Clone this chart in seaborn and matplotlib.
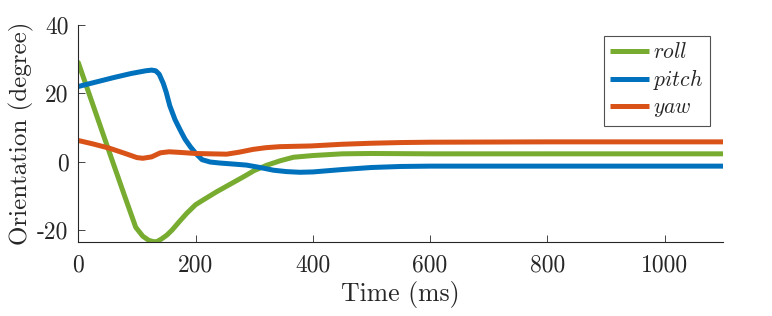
import numpy as np
import pandas as pd
import matplotlib
matplotlib.use("Agg")
import matplotlib.pyplot as plt
import seaborn as sns

# ── Data ──────────────────────────────────────────────────────────────────────
roll_t   = [0, 20, 40, 58, 80, 98, 110, 120, 128, 134, 142, 151, 160, 172, 185,
            200, 213, 236, 260, 282, 300, 322, 345, 367, 400, 450, 500, 600,
            800, 1000, 1100]
roll_deg = [29.0, 19.1, 9.2, 0.3, -10.5, -19.2, -21.8, -23.0, -23.4, -23.4,
            -22.6, -21.5, -20.0, -17.6, -15.1, -12.6, -11.2, -8.8, -6.5, -4.4,
            -2.6, -1.0, 0.3, 1.3, 1.8, 2.3, 2.4, 2.3, 2.3, 2.3, 2.3]

pitch_t   = [0, 30, 60, 90, 115, 125, 132, 138, 145, 150, 156, 165, 174, 182,
             191, 200, 211, 225, 242, 265, 287, 310, 333, 355, 378, 400, 450,
             500, 550, 600, 800, 1000, 1100]
pitch_deg = [22.0, 23.3, 24.6, 25.8, 26.6, 26.8, 26.6, 25.6, 22.9, 20.3, 16.4,
             12.3, 9.2, 6.6, 4.4, 2.5, 0.6, -0.1, -0.4, -0.7, -1.0, -1.7, -2.5,
             -2.9, -3.1, -3.0, -2.3, -1.7, -1.4, -1.3, -1.3, -1.3, -1.3]

yaw_t   = [0, 25, 54, 80, 100, 110, 125, 140, 155, 175, 200, 225, 253, 275,
           298, 320, 344, 370, 396, 450, 500, 550, 600, 800, 1000, 1100]
yaw_deg = [6.2, 5.2, 3.9, 2.4, 1.2, 1.0, 1.4, 2.6, 2.9, 2.7, 2.4, 2.3, 2.2,
           2.8, 3.6, 4.1, 4.4, 4.5, 4.6, 5.1, 5.4, 5.6, 5.7, 5.8, 5.8, 5.8]

series_names  = ["roll", "pitch", "yaw"]
series_colors = ["#77AC30", "#0072BD", "#D95319"]

x_ticks = [0, 200, 400, 600, 800, 1000]
y_ticks = [-20, 0, 20, 40]
y_tick_labels = ["-20", "0", "20", "40"]

# ── Build long table ──────────────────────────────────────────────────────────
frames = []
for name, t, v in [("roll", roll_t, roll_deg),
                   ("pitch", pitch_t, pitch_deg),
                   ("yaw", yaw_t, yaw_deg)]:
    frames.append(pd.DataFrame({"time": t, "deg": v, "axis": name}))
df = pd.concat(frames, ignore_index=True)

# ── Style ─────────────────────────────────────────────────────────────────────
sns.set_style("ticks")
plt.rcParams["font.family"] = ["cmr10", "DejaVu Serif"]
plt.rcParams["mathtext.fontset"] = "cm"
plt.rcParams["axes.unicode_minus"] = False

dark = "#262626"

fig = plt.figure(figsize=(7.72, 3.16), dpi=100)
ax = fig.add_axes([0.1014, 0.2342, 0.8355, 0.6867])

for name, col in zip(series_names, series_colors):
    sub = df[df["axis"] == name]
    sns.lineplot(data=sub, x="time", y="deg", color=col, lw=3.6,
                 label=f"${name}$", ax=ax, sort=False,
                 solid_joinstyle="round", solid_capstyle="round")

ax.set_xlim(0, 1100)
ax.set_ylim(-23.5, 40)
ax.set_xticks(x_ticks)
ax.set_xticklabels([str(x) for x in x_ticks])
ax.set_yticks(y_ticks)
ax.set_yticklabels(y_tick_labels)

for side in ["top", "right"]:
    ax.spines[side].set_visible(False)
for side in ["left", "bottom"]:
    ax.spines[side].set_color(dark)
    ax.spines[side].set_linewidth(0.8)

ax.tick_params(direction="in", length=5, width=0.6, colors=dark,
               labelsize=17, labelcolor=dark)
ax.tick_params(axis="x", pad=9)
ax.tick_params(axis="y", pad=7)
ax.set_xlabel("Time (ms)", fontsize=18.5, color=dark, labelpad=3)
ax.set_ylabel("Orientation (degree)", fontsize=18, color=dark, labelpad=2)

leg = ax.legend(loc="upper right", bbox_to_anchor=(0.979, 0.951),
                borderaxespad=0, fontsize=15.5, frameon=True, fancybox=False,
                handlelength=1.8, handletextpad=0.2, labelspacing=0.25,
                borderpad=0.3)
leg.get_frame().set_edgecolor(dark)
leg.get_frame().set_linewidth(0.8)
for line in leg.get_lines():
    line.set_linewidth(3.6)
    line.set_solid_capstyle("butt")

fig.savefig("out.png", dpi=100)
